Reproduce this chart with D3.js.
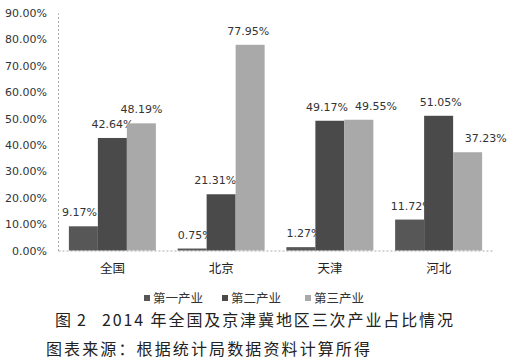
<!DOCTYPE html>
<html>
<head>
<meta charset="utf-8">
<script src="https://cdn.jsdelivr.net/npm/d3@7"></script>
<style>
  html, body { margin: 0; padding: 0; background: #fff; }
  svg { display: block; }
</style>
</head>
<body>
<svg id="chart" width="507" height="360"></svg>
<script>
// Regions and industry series (share of GDP, %)
const regions = ["全国", "北京", "天津", "河北"];
const seriesNames = ["第一产业", "第二产业", "第三产业"];
const primary   = [9.17, 0.75, 1.27, 11.72];
const secondary = [42.64, 21.31, 49.17, 51.05];
const tertiary  = [48.19, 77.95, 49.55, 37.23];
const yTicks = [0, 10, 20, 30, 40, 50, 60, 70, 80, 90];

const seriesValues = [primary, secondary, tertiary];
const colors = ["#575757", "#4a4a4a", "#a9a9a9"];
// horizontal nudges so neighbouring value labels do not collide
const labelNudge = [
  [-4, 3, 3, 2],
  [0, -6, -3, 2],
  [0, -2, 17, 18]
];

const svg = d3.select("#chart");
const plot = { left: 58, right: 493, top: 13, bottom: 250.5 };

const x0 = d3.scaleBand().domain(regions)
  .range([plot.left, plot.right]).paddingInner(0.2).paddingOuter(0.1);
const x1 = d3.scaleBand().domain(d3.range(seriesNames.length))
  .range([0, x0.bandwidth()]);
const y = d3.scaleLinear().domain([0, 90]).range([plot.bottom, plot.top]);

// y axis (dotted line, percentage labels)
const yAxis = svg.append("g")
  .attr("transform", `translate(${plot.left},0)`)
  .call(d3.axisLeft(y).tickValues(yTicks).tickSize(0).tickPadding(11)
    .tickFormat(d => d.toFixed(2) + "%"));
yAxis.select(".domain").attr("stroke", "#aaa").attr("stroke-dasharray", "2,2");
yAxis.selectAll("text")
  .attr("font-family", "DejaVu Sans").attr("font-size", 11).attr("fill", "#333");

// x axis (dotted baseline, region labels)
const xAxis = svg.append("g")
  .attr("transform", `translate(0,${plot.bottom})`)
  .call(d3.axisBottom(x0).tickSize(0).tickPadding(14).tickSizeOuter(0));
xAxis.select(".domain").attr("stroke", "#aaa").attr("stroke-dasharray", "2,2");
xAxis.selectAll("text")
  .attr("font-family", "Noto Sans CJK SC").attr("font-size", 12.5).attr("fill", "#222");

// bars
const groups = svg.append("g").selectAll("g")
  .data(regions).join("g")
  .attr("transform", d => `translate(${x0(d)},0)`);

groups.each(function(region, ri) {
  const g = d3.select(this);
  seriesValues.forEach((vals, si) => {
    const v = vals[ri];
    g.append("rect")
      .attr("x", x1(si)).attr("width", x1.bandwidth())
      .attr("y", y(v)).attr("height", y(0) - y(v))
      .attr("fill", colors[si]);
    g.append("text")
      .attr("x", x1(si) + x1.bandwidth() / 2 + labelNudge[si][ri])
      .attr("y", y(v) - 10)
      .attr("text-anchor", "middle")
      .attr("font-family", "DejaVu Sans").attr("font-size", 11).attr("fill", "#333")
      .text(v.toFixed(2) + "%");
  });
});

// legend
const legendX = [144, 222, 305];
const legend = svg.append("g");
seriesNames.forEach((name, i) => {
  legend.append("rect")
    .attr("x", legendX[i]).attr("y", 295).attr("width", 6).attr("height", 6)
    .attr("fill", colors[i]);
  legend.append("text")
    .attr("x", legendX[i] + 9).attr("y", 302.5)
    .attr("font-family", "Noto Sans CJK SC").attr("font-size", 12.5).attr("fill", "#333")
    .text(name);
});

// caption and source
svg.append("text")
  .attr("x", 55).attr("y", 326)
  .attr("font-family", "Noto Sans CJK SC").attr("font-size", 16).attr("fill", "#222")
  .attr("textLength", 31).attr("lengthAdjust", "spacing")
  .text("图 2");
svg.append("text")
  .attr("x", 102).attr("y", 326)
  .attr("font-family", "Noto Sans CJK SC").attr("font-size", 16).attr("fill", "#222")
  .attr("textLength", 351).attr("lengthAdjust", "spacing")
  .text("2014 年全国及京津冀地区三次产业占比情况");
svg.append("text")
  .attr("x", 46).attr("y", 355)
  .attr("font-family", "Noto Sans CJK SC").attr("font-size", 16).attr("fill", "#222")
  .attr("textLength", 324).attr("lengthAdjust", "spacing")
  .text("图表来源：根据统计局数据资料计算所得");
</script>
</body>
</html>
